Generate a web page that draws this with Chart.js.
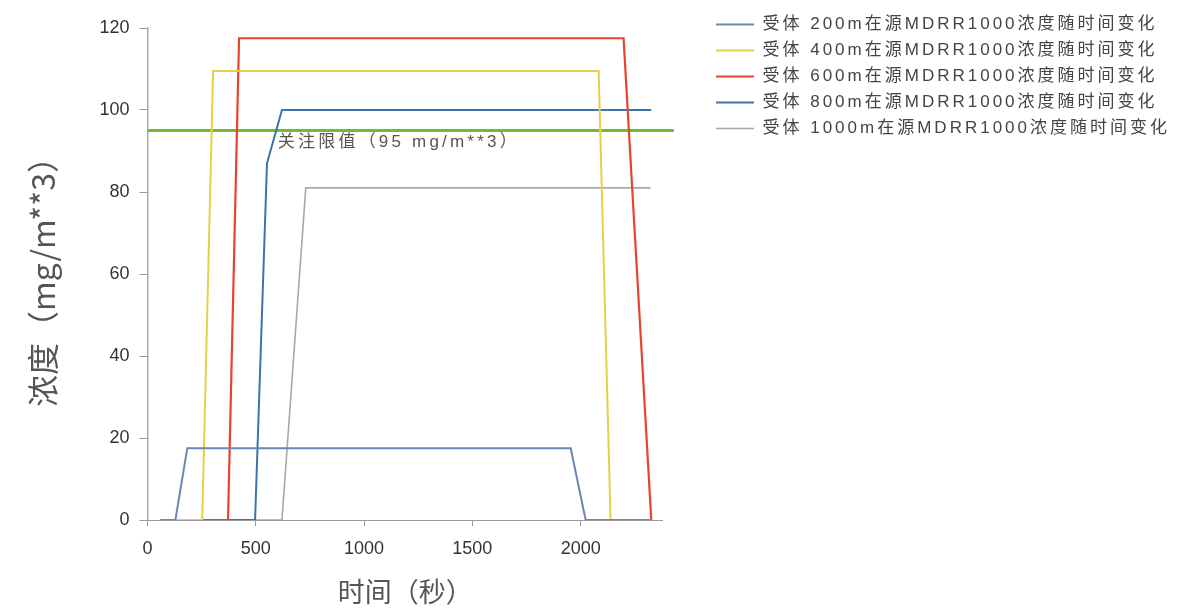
<!DOCTYPE html>
<html>
<head>
<meta charset="utf-8">
<script src="https://cdn.jsdelivr.net/npm/chart.js@4"></script>
<style>
  html, body { margin: 0; padding: 0; background: #fff; }
  #wrap { width: 1184px; height: 611px; }
</style>
</head>
<body>
<div id="wrap"><canvas id="concChart"></canvas></div>
<script>
// 各受体浓度随时间变化（秒, mg/m3）
const t200 = [60, 129, 184, 1954, 2023, 2326];
const c200 = [0, 0, 17.5, 17.5, 0, 0];
const t400 = [60, 253, 303, 2083, 2138, 2326];
const c400 = [0, 0, 109.5, 109.5, 0, 0];
const t600 = [60, 372, 423, 2198, 2326];
const c600 = [0, 0, 117.5, 117.5, 0];
const t800 = [60, 497, 552, 621, 2326];
const c800 = [0, 0, 87, 100, 100];
const t1000 = [60, 621, 731, 2322];
const c1000 = [0, 0, 81, 81];

// 限值线
const limitT = [0, 2430];
const limitC = [95, 95];
const limitText = '关注限值（95 mg/m**3）';

const seriesNames = [
  '受体 200m在源MDRR1000浓度随时间变化',
  '受体 400m在源MDRR1000浓度随时间变化',
  '受体 600m在源MDRR1000浓度随时间变化',
  '受体 800m在源MDRR1000浓度随时间变化',
  '受体 1000m在源MDRR1000浓度随时间变化'
];
const xTickVals = [0, 500, 1000, 1500, 2000];
const yTickVals = [0, 20, 40, 60, 80, 100, 120];

const pts = (ts, cs) => ts.map((t, i) => ({ x: t, y: cs[i] }));

const legendSpacing = 3;
const legendGap = 44;

// 图例：加宽并右移，字距加大（measureText 不计字距，手动补上）
const legendTweak = {
  id: 'legendTweak',
  beforeUpdate(chart) {
    const lg = chart.legend;
    if (!lg || lg._tweaked) return;
    lg._tweaked = true;
    const fit = lg.fit, draw = lg.draw;
    lg.fit = function () {
      fit.call(this);
      const n = Math.max(...this.legendItems.map(it => [...it.text].length));
      this.width += n * legendSpacing + legendGap;
    };
    lg.draw = function () {
      const c = this.ctx;
      c.save();
      c.letterSpacing = legendSpacing + 'px';
      c.translate(legendGap, 3);
      draw.call(this);
      c.restore();
    };
  }
};

// 限值文字
const limitLabel = {
  id: 'limitLabel',
  afterDatasetsDraw(chart) {
    const { ctx, scales: { x, y } } = chart;
    ctx.save();
    ctx.letterSpacing = '3.2px';
    ctx.font = '17px "Liberation Sans", "Noto Sans CJK SC"';
    ctx.fillStyle = '#555';
    ctx.textAlign = 'left';
    ctx.textBaseline = 'middle';
    ctx.fillText(limitText, x.getPixelForValue(602), y.getPixelForValue(92));
    ctx.restore();
  }
};

const ctx = document.getElementById('concChart').getContext('2d');
const concChart = new Chart(ctx, {
  type: 'line',
  data: {
    datasets: [
      { label: seriesNames[0], data: pts(t200, c200), borderColor: '#6a88b0', borderWidth: 2 },
      { label: seriesNames[1], data: pts(t400, c400), borderColor: '#e6cf45', borderWidth: 2 },
      { label: seriesNames[2], data: pts(t600, c600), borderColor: '#e8432c', borderWidth: 2.2 },
      { label: seriesNames[3], data: pts(t800, c800), borderColor: '#3b74a8', borderWidth: 2 },
      { label: seriesNames[4], data: pts(t1000, c1000), borderColor: '#a8a8a8', borderWidth: 1.6 },
      {
        label: 'limit', data: pts(limitT, limitC), borderColor: '#6cbf2a', borderWidth: 3,
        clip: { left: 0, top: 0, right: 14, bottom: 0 }
      }
    ]
  },
  options: {
    responsive: true,
    maintainAspectRatio: false,
    animation: false,
    layout: { padding: { left: 22, right: 4, top: 4, bottom: 3 } },
    elements: {
      point: { radius: 0, hoverRadius: 0 },
      line: { tension: 0, fill: false }
    },
    scales: {
      x: {
        type: 'linear',
        min: 0,
        max: 2380,
        afterBuildTicks: axis => { axis.ticks = xTickVals.map(v => ({ value: v })); },
        grid: { drawOnChartArea: false, tickLength: 6, color: '#999' },
        border: { display: true, color: '#999', width: 1 },
        ticks: {
          color: '#333',
          padding: 12,
          maxRotation: 0,
          callback: v => String(v),
          font: { family: '"Liberation Sans", Arial', size: 18 }
        },
        title: {
          display: true,
          text: '时间（秒）',
          color: '#555',
          padding: { top: 4, bottom: 0 },
          font: { family: '"Noto Sans CJK SC"', size: 27 }
        }
      },
      y: {
        min: 0,
        max: 120,
        afterBuildTicks: axis => { axis.ticks = yTickVals.map(v => ({ value: v })); },
        afterFit: scale => { scale.paddingTop = Math.max(scale.paddingTop, 28); },
        grid: { drawOnChartArea: false, tickLength: 8, color: '#999' },
        border: { display: true, color: '#aaa', width: 1.5 },
        ticks: {
          color: '#333',
          padding: 10,
          font: { family: '"Liberation Sans", Arial', size: 18 }
        },
        title: {
          display: true,
          text: '浓度（mg/m**3）',
          color: '#555',
          padding: { top: 2, bottom: 27 },
          font: { family: '"Noto Sans CJK SC"', size: 32 }
        }
      }
    },
    plugins: {
      legend: {
        position: 'right',
        align: 'start',
        maxWidth: 700,
        labels: {
          filter: item => item.text !== 'limit',
          usePointStyle: true,
          pointStyle: 'line',
          pointStyleWidth: 38,
          padding: 9,
          color: '#444',
          font: { family: '"Liberation Sans", "Noto Sans CJK SC"', size: 17 }
        }
      },
      tooltip: { enabled: false }
    }
  },
  plugins: [legendTweak, limitLabel]
});
</script>
</body>
</html>
